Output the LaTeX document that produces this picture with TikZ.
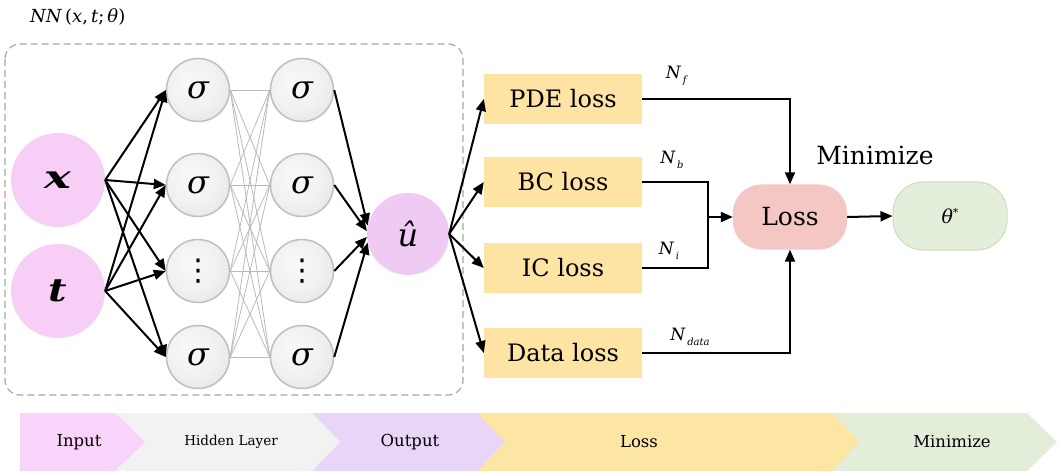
\documentclass[tikz,border=0pt]{standalone}
\usepackage{fontspec}
\setmainfont{DejaVu Serif}
\newfontfamily\djv{DejaVu Sans}
\usetikzlibrary{arrows.meta}
\definecolor{inpink}{HTML}{F6CEF6}
\definecolor{outpink}{HTML}{EFCBF4}
\definecolor{lossyel}{HTML}{FDE3A4}
\definecolor{losspink}{HTML}{F4C6C4}
\definecolor{thgreen}{HTML}{E3EFDA}
\definecolor{thborder}{HTML}{C8DDB9}
\definecolor{barpink}{HTML}{F9D4FA}
\definecolor{bargray}{HTML}{F2F2F2}
\definecolor{barpurple}{HTML}{E8D5F8}
\definecolor{baryel}{HTML}{FDE6A3}
\definecolor{bargreen}{HTML}{E2EEDA}
\pgfdeclareradialshading{sigball}{\pgfpoint{-7bp}{7bp}}{color(0bp)=(gray!5); color(20bp)=(gray!11); color(36bp)=(gray!22); color(46bp)=(gray!38); color(56bp)=(gray!62)}
\newcommand{\Nsub}[1]{\textit{N}\kern1.5pt\raisebox{-5pt}{\fontsize{10}{10}\selectfont\textit{#1}}}
\tikzset{
  innode/.style={circle, fill=inpink, minimum size=94pt, inner sep=0pt},
  signode/.style={circle, shade, shading=sigball, draw=gray!50, line width=1.5pt, minimum size=63pt, inner sep=0pt, font=\fontsize{32}{32}\selectfont\itshape},
  outnode/.style={circle, fill=outpink, minimum size=82pt, inner sep=0pt, font=\fontsize{32}{32}\selectfont\itshape},
  lossbox/.style={rectangle, fill=lossyel, minimum width=158pt, minimum height=50pt, inner sep=0pt, font=\fontsize{24}{24}\selectfont},
  conn/.style={line width=2pt, -{Triangle[length=12pt,width=10pt]}},
  plain/.style={line width=2pt},
  thin/.style={gray!55, line width=0.8pt},
  nlabel/.style={font=\fontsize{17}{17}\selectfont, inner sep=0pt},
  bartext/.style={font=\fontsize{16.5}{16.5}\selectfont, inner sep=0pt},
}
\begin{document}
\begin{tikzpicture}[x=1pt,y=-1pt]
\useasboundingbox (0,0) rectangle (1059,473);
% title and dashed frame
\node[anchor=west, inner sep=0pt, font=\fontsize{18}{18}\selectfont] (title) at (30,17) {\textit{NN}\,(\textit{x},\,\textit{t};\,\textit{θ})};
\draw[gray!70, dash pattern=on 7pt off 4pt, line width=1.2pt, rounded corners=15pt] (5,44) rectangle (463,395);
% input
\node[innode] (xin) at (58,180) {\scalebox{1.4}[1]{\fontsize{32}{32}\selectfont\bfseries\itshape x}};
\node[innode] (tin) at (58,291) {\scalebox{1.25}[1]{\fontsize{32}{32}\selectfont\bfseries\itshape t}};
% hidden layers
\node[signode] (h1a) at (198,90) {σ};
\node[signode] (h1b) at (198,185) {σ};
\node[signode] (h1c) at (198,271) {\djv\upshape\fontsize{30}{30}\selectfont ⋮};
\node[signode] (h1d) at (198,357) {σ};
\node[signode] (h2a) at (302,90) {σ};
\node[signode] (h2b) at (302,185) {σ};
\node[signode] (h2c) at (302,271) {\djv\upshape\fontsize{30}{30}\selectfont ⋮};
\node[signode] (h2d) at (302,357) {σ};
\foreach \a in {h1a,h1b,h1c,h1d}{
  \foreach \b in {h2a,h2b,h2c,h2d}{
    \draw[thin] (\a.east) -- (\b.west);
  }
}
% output
\node[outnode] (out) at (408,234) {û};
% input arrows
\foreach \b in {h1a,h1b,h1c,h1d}{
  \draw[conn] (xin.east) -- (\b.west);
  \draw[conn] (tin.east) -- (\b.west);
}
% hidden to output
\draw[conn] (h2a.east) -- (out.168);
\draw[conn] (h2b.east) -- (out.176);
\draw[conn] (h2c.east) -- (out.184);
\draw[conn] (h2d.east) -- (out.192);
% loss boxes
\node[lossbox] (pde) at (563,99) {PDE loss};
\node[lossbox] (bc) at (563,182) {BC loss};
\node[lossbox] (ic) at (563,268) {IC loss};
\node[lossbox] (data) at (563,353) {Data loss};
\foreach \b in {pde,bc,ic,data}{
  \draw[conn] (out.east) -- (\b.west);
}
% loss and theta
\node[rectangle, rounded corners=28pt, fill=losspink, minimum width=114pt, minimum height=65pt, inner sep=0pt, font=\fontsize{25}{25}\selectfont] (loss) at (790,217) {Loss};
\node[rectangle, rounded corners=30pt, fill=thgreen, draw=thborder, line width=1pt, minimum width=114pt, minimum height=68pt, inner sep=0pt, font=\fontsize{19}{19}\selectfont] (theta) at (950,216) {\textit{θ}\raisebox{7pt}{\fontsize{11}{11}\selectfont *}};
\node[inner sep=0pt, font=\fontsize{25}{25}\selectfont] (minlab) at (875,155) {Minimize};
\coordinate (j) at (708,217);
\draw[conn] (pde.east) -| (loss.north);
\draw[conn] (data.east) -| (loss.south);
\draw[plain] (bc.east) -| (j) |- (ic.east);
\draw[conn] (j) -- (loss.west);
\draw[conn] (loss.east) -- (theta.west);
% N labels
\node[nlabel] (nf) at (677,76) {\Nsub{f}};
\node[nlabel] (nb) at (672,160) {\Nsub{b}};
\node[nlabel] (ni) at (669,251) {\Nsub{i}};
\node[nlabel] (nd) at (690,337) {\Nsub{data}};
% bottom bar
\fill[bargreen] (820,413) -- (1027,413) -- (1057,442) -- (1027,471) -- (820,471) -- cycle;
\fill[baryel] (470,413) -- (832,413) -- (860,442) -- (832,471) -- (470,471) -- cycle;
\fill[barpurple] (300,413) -- (477,413) -- (505,442) -- (477,471) -- (300,471) -- cycle;
\fill[bargray] (110,413) -- (312,413) -- (340,442) -- (312,471) -- (110,471) -- cycle;
\fill[barpink] (20,413) -- (115,413) -- (145,442) -- (115,471) -- (20,471) -- cycle;
\node[bartext] (binput) at (79,442) {Input};
\node[bartext, font=\fontsize{13.5}{13.5}\selectfont] (bhidden) at (231,442) {Hidden Layer};
\node[bartext] (boutput) at (410,442) {Output};
\node[bartext] (bloss) at (639,442) {Loss};
\node[bartext] (bmin) at (952,442) {Minimize};
\end{tikzpicture}
\end{document}
